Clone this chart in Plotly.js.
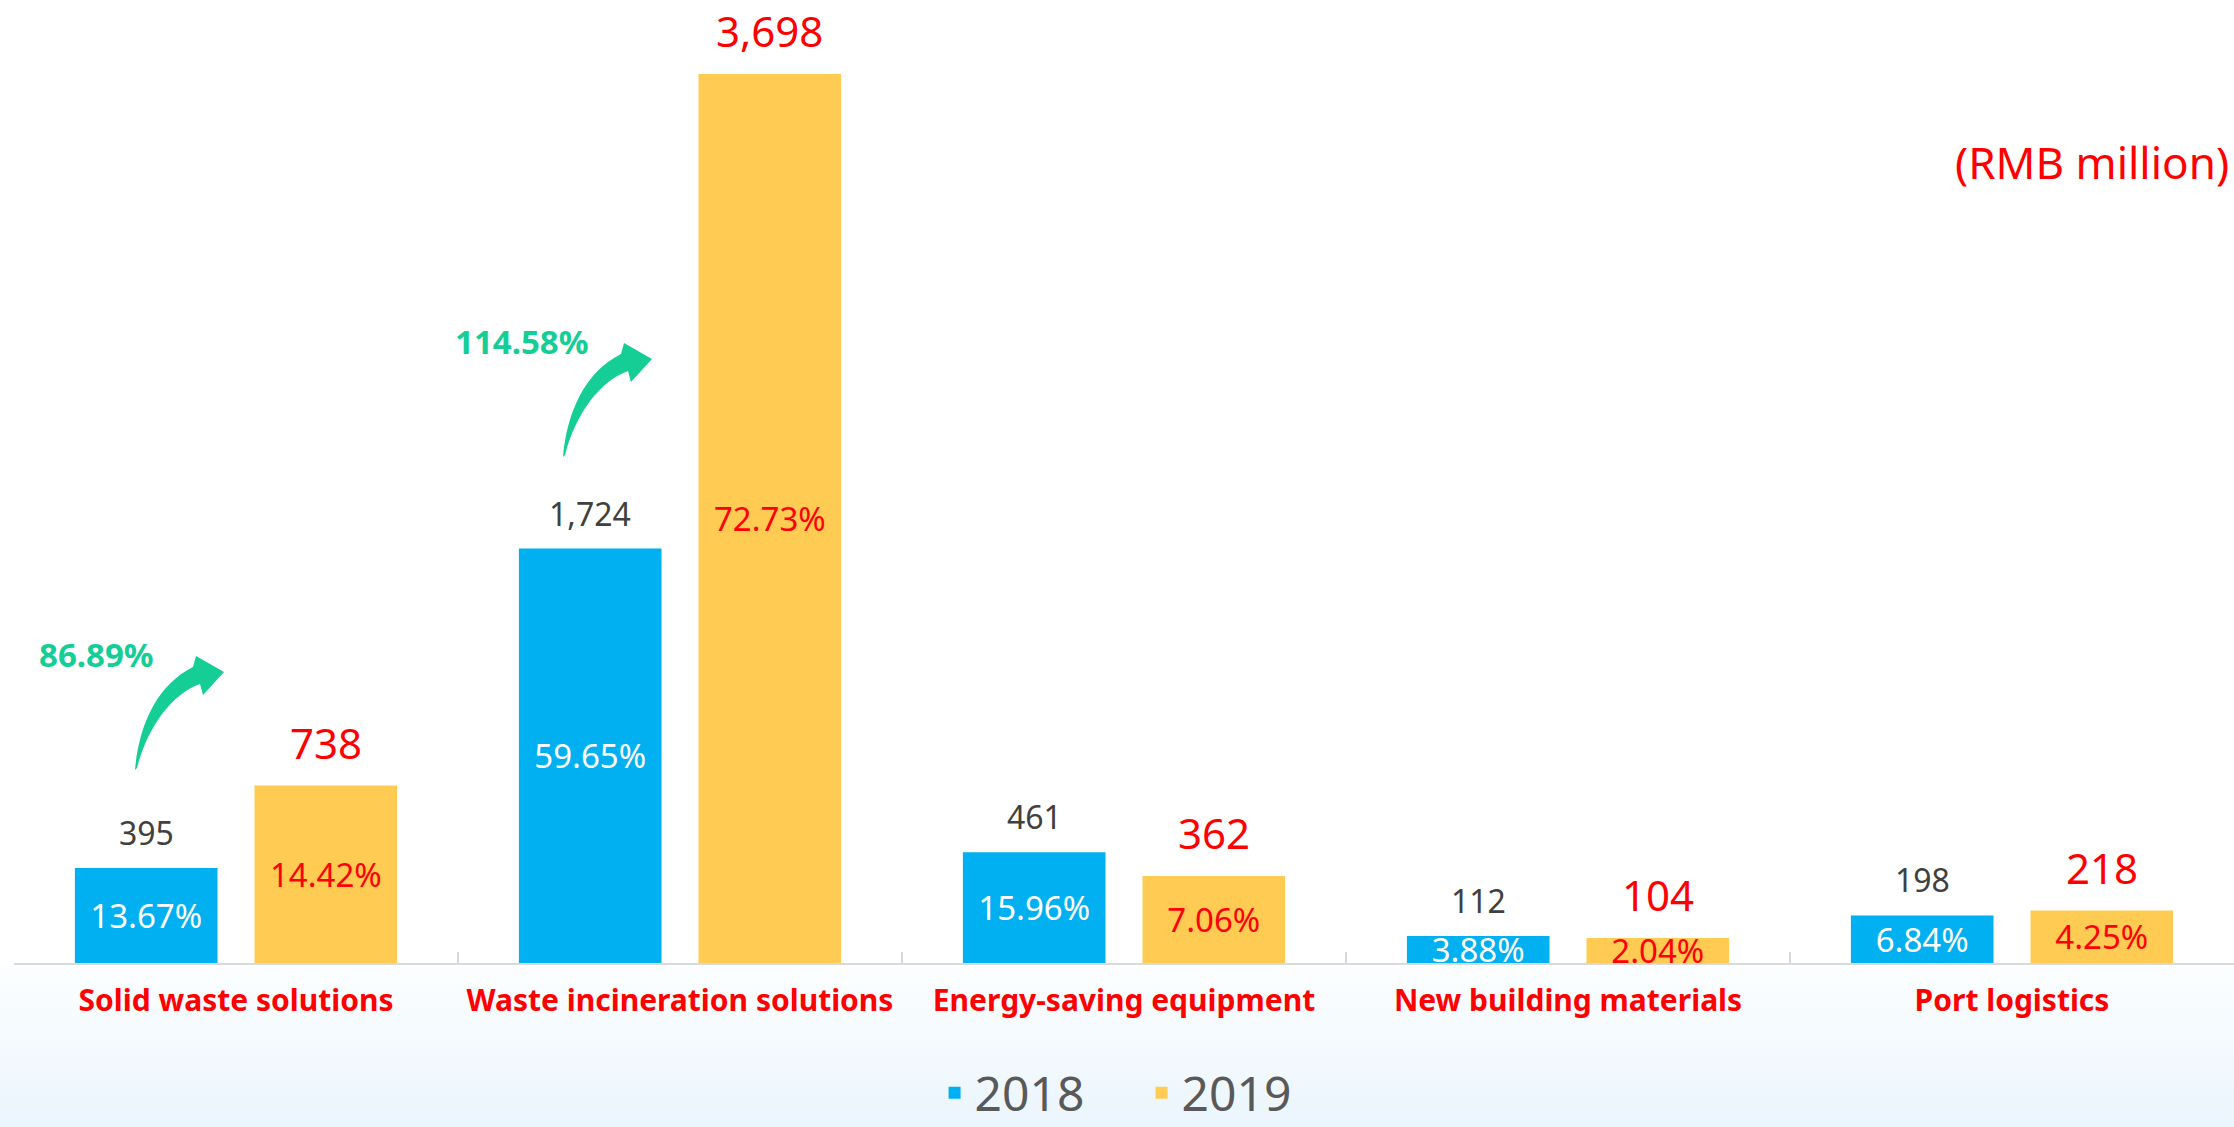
<!DOCTYPE html>
<html>
<head>
<meta charset="utf-8">
<script src="https://cdn.plot.ly/plotly-3.0.1.min.js"></script>
<style>
  html, body { margin: 0; padding: 0; }
  body {
    width: 2234px; height: 1127px; overflow: hidden;
    background: linear-gradient(to bottom, #ffffff 0px, #ffffff 963px, #fcfeff 966px, #ebf5fd 1127px);
  }
  #chart { width: 2234px; height: 1127px; }
</style>
</head>
<body>
<div id="chart"></div>
<script>
// ---- data ----
const categories = ['Solid waste solutions', 'Waste incineration solutions', 'Energy-saving equipment', 'New building materials', 'Port logistics'];
const years = ['2018', '2019'];
const values2018 = [395, 1724, 461, 112, 198];
const values2019 = [738, 3698, 362, 104, 218];
const share2018 = ['13.67%', '59.65%', '15.96%', '3.88%', '6.84%'];
const share2019 = ['14.42%', '72.73%', '7.06%', '2.04%', '4.25%'];
const growthLabels = ['86.89%', '114.58%'];
const unitLabel = '(RMB million)';

// ---- page geometry (pixels) ----
const W = 2234, H = 1127;
const axisY = 963;            // pixel row of the category axis
const plotLeft = 14;
const pxPerUnit = 0.2404;
const px = x => x / W;
const py = y => 1 - y / H;

const blue = '#00B0F0', yellow = '#FFCB52', red = '#FF0000', green = '#14CE96';
const font = '"Noto Sans", "Open Sans", sans-serif';
const offset = 0.202;  // half distance between the bar centres, in category units

const traces = [
  {
    type: 'bar', name: years[0], x: categories, y: values2018,
    marker: { color: blue },
    text: share2018, textposition: 'inside', insidetextanchor: 'middle',
    textangle: 0, constraintext: 'none', cliponaxis: false,
    textfont: { family: font, size: 33, color: '#ffffff' },
    hoverinfo: 'none'
  },
  {
    type: 'bar', name: years[1], x: categories, y: values2019,
    marker: { color: yellow },
    text: share2019, textposition: 'inside', insidetextanchor: 'middle',
    textangle: 0, constraintext: 'none', cliponaxis: false,
    textfont: { family: font, size: 33, color: red },
    hoverinfo: 'none'
  }
];

const annotations = [];
categories.forEach((c, i) => {
  annotations.push({
    x: i - offset, y: values2018[i], xref: 'x', yref: 'y',
    text: values2018[i].toLocaleString('en-US'), showarrow: false,
    yanchor: 'bottom', yshift: 12,
    font: { family: font, size: 32, color: '#404040' }
  });
  annotations.push({
    x: i + offset, y: values2019[i], xref: 'x', yref: 'y',
    text: values2019[i].toLocaleString('en-US'), showarrow: false,
    yanchor: 'bottom', yshift: 13,
    font: { family: font, size: 42, color: red }
  });
});

// growth labels and unit note
const growthPos = [[97, 654], [521, 342]];
growthLabels.forEach((g, k) => {
  annotations.push({
    x: px(growthPos[k][0]), y: py(growthPos[k][1]), xref: 'paper', yref: 'paper',
    text: '<b>' + g + '</b>', showarrow: false, xanchor: 'center', yanchor: 'middle',
    font: { family: font, size: 33, color: green }
  });
});
annotations.push({
  x: px(2231), y: py(162), xref: 'paper', yref: 'paper',
  text: unitLabel, showarrow: false, xanchor: 'right', yanchor: 'middle',
  font: { family: font, size: 44, color: red }
});

// curved growth arrows (decoration), drawn as paper-space paths
function arrowPath(tx, ty) {
  const cmds = [
    ['M', [0, 0]],
    ['C', [4, -45], [22, -85], [58, -103]],
    ['L', [61, -114]],
    ['L', [89, -98]],
    ['L', [68, -75]],
    ['L', [65, -86]],
    ['C', [37, -76], [13, -44], [2, -2]]
  ];
  let s = '';
  cmds.forEach(c => {
    s += c[0] + ' ' + c.slice(1).map(p => px(tx + p[0]).toFixed(5) + ',' + py(ty + p[1]).toFixed(5)).join(' ') + ' ';
  });
  return s + 'Z';
}
const arrowTails = [[135, 770], [563, 457]];
const shapes = arrowTails.map(t => ({
  type: 'path', xref: 'paper', yref: 'paper', path: arrowPath(t[0], t[1]),
  fillcolor: green, line: { width: 0 }, layer: 'above'
}));

const layout = {
  width: W, height: H,
  margin: { l: 0, r: 0, t: 0, b: 0, pad: 0, autoexpand: false },
  paper_bgcolor: 'rgba(0,0,0,0)',
  plot_bgcolor: 'rgba(0,0,0,0)',
  barmode: 'group', bargap: 0.191, bargroupgap: 0.206,
  font: { family: font },
  xaxis: {
    domain: [plotLeft / W, 1],
    type: 'category', automargin: false,
    showline: true, linecolor: '#d9d9d9', linewidth: 2,
    ticks: 'inside', tickson: 'boundaries', ticklen: 11, tickwidth: 2, tickcolor: '#d9d9d9',
    ticklabelstandoff: 10,
    tickfont: { family: font, size: 30, color: red, weight: 'bold' },
    showgrid: false, zeroline: false, fixedrange: true
  },
  yaxis: {
    domain: [1 - axisY / H, 1],
    range: [0, axisY / pxPerUnit], automargin: false,
    visible: false, showgrid: false, zeroline: false, fixedrange: true
  },
  showlegend: true,
  legend: {
    orientation: 'h', x: 0.511, xanchor: 'center', y: py(1093), yanchor: 'middle',
    entrywidth: 162, entrywidthmode: 'pixels',
    font: { family: font, size: 48, color: '#595959' },
    bgcolor: 'rgba(0,0,0,0)', itemclick: false, itemdoubleclick: false
  },
  annotations: annotations,
  shapes: shapes
};

Plotly.newPlot('chart', traces, layout, { displayModeBar: false, staticPlot: true });
</script>
</body>
</html>
